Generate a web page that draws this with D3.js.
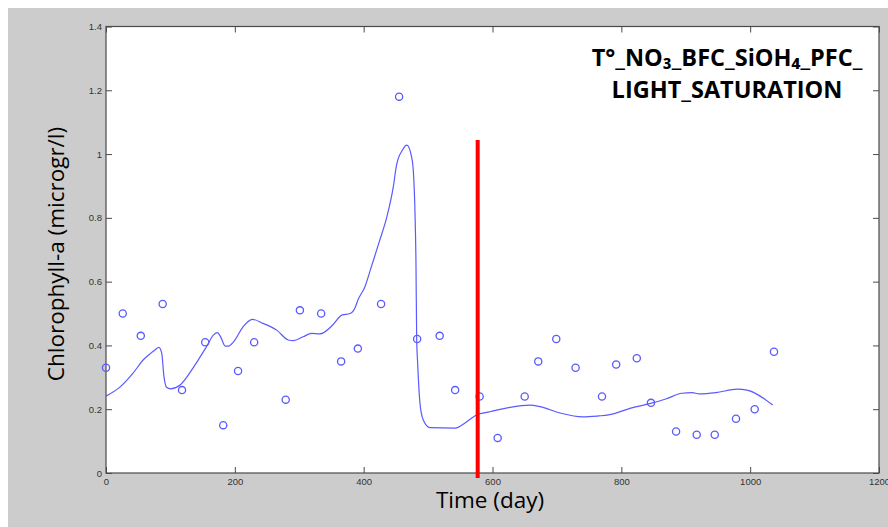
<!DOCTYPE html>
<html><head><meta charset="utf-8">
<script src="https://cdn.jsdelivr.net/npm/d3@7"></script>
<style>body{margin:0;background:#fff;} svg{display:block;}</style>
</head><body>
<svg id="chart" width="888" height="527"></svg>
<script>
// Observed data (circles)
const obsTime = [0,26,54,88,118,154,182,205,230,279,301,334,365,391,427,455,483,518,542,580,608,650,671,699,729,770,792,824,846,885,917,945,978,1007,1037];
const obsChl  = [0.33,0.50,0.43,0.53,0.26,0.41,0.15,0.32,0.41,0.23,0.51,0.50,0.35,0.39,0.53,1.18,0.42,0.43,0.26,0.24,0.11,0.24,0.35,0.42,0.33,0.24,0.34,0.36,0.22,0.13,0.12,0.12,0.17,0.20,0.38];
// Model output (line)
const modTime = [0,22,42,58,68,76,82,86.5,90,94,100,115,135,156,167,173,178,185,190,198,213,227,244,265,283,291,306,319,332,352,366,379,387,391,402,412,425,436,446,451,460,467,474.5,477,479.7,481.2,482.3,483.8,487.4,492.5,503,542,560,575,596,627,658,674,705,740,765,780,816,847,869,894,910,921,947,980,995,1035];
const modChl  = [0.241,0.27,0.313,0.355,0.373,0.386,0.394,0.376,0.302,0.269,0.264,0.276,0.329,0.396,0.433,0.44,0.427,0.398,0.398,0.411,0.459,0.482,0.469,0.448,0.417,0.415,0.427,0.438,0.436,0.464,0.495,0.50,0.52,0.542,0.584,0.647,0.73,0.803,0.897,0.965,1.012,1.028,0.99,0.95,0.815,0.658,0.42,0.345,0.219,0.166,0.142,0.141,0.161,0.182,0.192,0.206,0.213,0.208,0.188,0.176,0.179,0.182,0.204,0.219,0.232,0.25,0.252,0.248,0.252,0.263,0.26,0.213];
// Vertical marker
const markerTime = 577;
const markerTop = 1.044;
const xTicks = [0,200,400,600,800,1000,1200];
const yTicks = [0,0.2,0.4,0.6,0.8,1,1.2,1.4];
const titleLines = ["T°_NO₃_BFC_SiOH₄_PFC_", "LIGHT_SATURATION"];
const xLabel = "Time (day)";
const yLabel = "Chlorophyll-a (microgr/l)";

const svg = d3.select("#chart");
svg.append("rect").attr("x",8).attr("y",8).attr("width",880).attr("height",519).attr("fill","#cccccc");

const L=106, R=879, T=26.5, B=473;
const x = d3.scaleLinear().domain([0,1200]).range([L,R]);
const y = d3.scaleLinear().domain([0,1.4]).range([B,T]);

svg.append("rect").attr("x",L).attr("y",T).attr("width",R-L).attr("height",B-T).attr("fill","#fff");

const axColor="#4a4a4a";
const tickFmt = d => d3.format("")(d);
function styleAxis(g){ g.select(".domain").remove(); g.selectAll("line").attr("stroke",axColor); g.selectAll("text").attr("fill","#333").style("font-family","Liberation Sans, Arial, sans-serif").style("font-size","9.5px"); }

svg.append("g").attr("transform",`translate(0,${B})`).call(d3.axisBottom(x).tickValues(xTicks).tickSizeInner(-6).tickSizeOuter(0).tickPadding(5).tickFormat(tickFmt)).call(styleAxis);
svg.append("g").attr("transform",`translate(0,${T})`).call(d3.axisTop(x).tickValues(xTicks).tickSizeInner(-6).tickSizeOuter(0).tickFormat("")).call(styleAxis);
svg.append("g").attr("transform",`translate(${L},0)`).call(d3.axisLeft(y).tickValues(yTicks).tickSizeInner(-6).tickSizeOuter(0).tickPadding(4).tickFormat(tickFmt)).call(styleAxis);
svg.append("g").attr("transform",`translate(${R},0)`).call(d3.axisRight(y).tickValues(yTicks).tickSizeInner(-6).tickSizeOuter(0).tickFormat("")).call(styleAxis);

svg.append("rect").attr("x",L).attr("y",T).attr("width",R-L).attr("height",B-T).attr("fill","none").attr("stroke",axColor).attr("stroke-width",1.2);

const blue="#5a5aff";
const line = d3.line().x((d,i)=>x(modTime[i])).y((d,i)=>y(modChl[i])).curve(d3.curveMonotoneX);
svg.append("path").attr("d",line(modTime)).attr("fill","none").attr("stroke",blue).attr("stroke-width",1.2);

svg.append("g").selectAll("circle").data(obsTime).join("circle")
  .attr("cx",(d,i)=>x(obsTime[i])).attr("cy",(d,i)=>y(obsChl[i])).attr("r",3.6)
  .attr("fill","none").attr("stroke",blue).attr("stroke-width",1.3);

svg.append("line").attr("x1",x(markerTime)).attr("x2",x(markerTime)).attr("y1",y(markerTop)).attr("y2",B+5)
  .attr("stroke","#ff0000").attr("stroke-width",4);

const font="'Open Sans', Lato, sans-serif";
svg.append("text").attr("x",490).attr("y",508).attr("text-anchor","middle").style("font-family",font).style("font-size","22.5px").attr("fill","#000").text(xLabel);
svg.append("text").attr("transform",`translate(64,254) rotate(-90)`).attr("text-anchor","middle").style("font-family",font).style("font-size","22.5px").attr("fill","#000").text(yLabel);

svg.append("g").selectAll("text").data(titleLines).join("text")
  .attr("x",727).attr("y",(d,i)=>66+i*32).attr("text-anchor","middle")
  .style("font-family",font).style("font-size","23.5px").style("font-weight","bold").attr("fill","#000").text(d=>d);
</script>
</body></html>
